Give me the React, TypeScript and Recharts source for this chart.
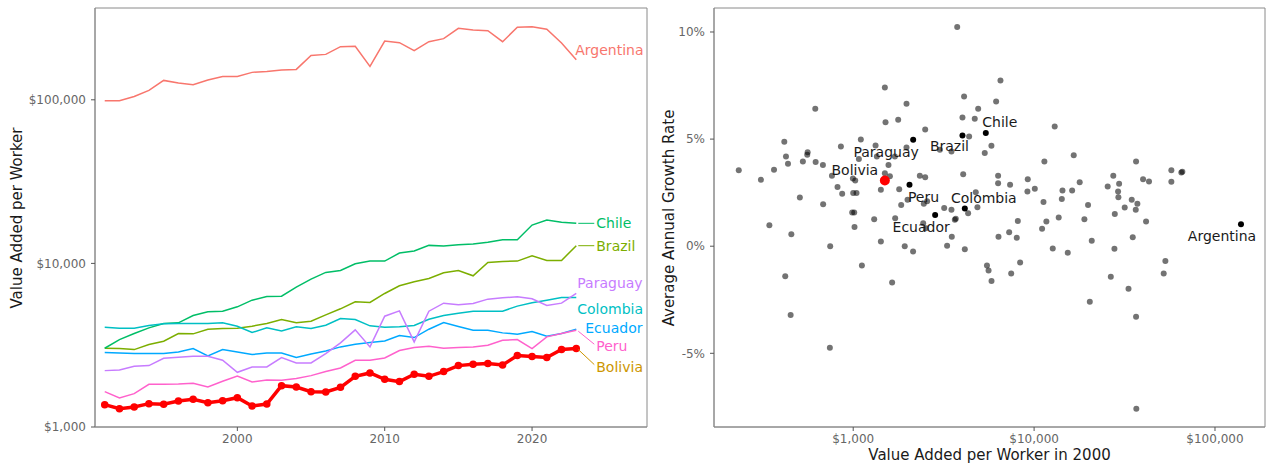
import React from 'react';
import { LineChart, Line, XAxis, YAxis, ScatterChart, Scatter, ReferenceArea } from 'recharts';

// ---------- Left panel data: value added per worker (USD), 1991-2023 ----------
const years = [1991, 1992, 1993, 1994, 1995, 1996, 1997, 1998, 1999, 2000, 2001, 2002, 2003, 2004, 2005, 2006, 2007, 2008, 2009, 2010, 2011, 2012, 2013, 2014, 2015, 2016, 2017, 2018, 2019, 2020, 2021, 2022, 2023];
const argentina = [98600, 98600, 104800, 114100, 131400, 126500, 123600, 132000, 139000, 139000, 147100, 149100, 152000, 153400, 186800, 189500, 211200, 212200, 160000, 228700, 223400, 199600, 226600, 236400, 273500, 267200, 264600, 226600, 277300, 280000, 269700, 222400, 175800];
const bolivia = [1369, 1294, 1325, 1389, 1376, 1442, 1476, 1408, 1449, 1511, 1344, 1382, 1789, 1756, 1644, 1637, 1748, 2041, 2140, 1957, 1894, 2100, 2041, 2181, 2373, 2418, 2441, 2395, 2733, 2695, 2657, 2973, 3016];
const brazil = [3029, 3016, 2973, 3191, 3345, 3727, 3709, 3960, 3999, 4018, 4132, 4291, 4539, 4331, 4433, 4847, 5277, 5822, 5768, 6550, 7297, 7720, 8091, 8761, 9058, 8400, 10139, 10282, 10330, 11140, 10426, 10426, 12830];
const chile = [3029, 3424, 3727, 4036, 4291, 4331, 4803, 5057, 5105, 5426, 5961, 6278, 6307, 7160, 8015, 8806, 9058, 9949, 10330, 10330, 11568, 11898, 12887, 12766, 13010, 13134, 13446, 13957, 13957, 17160, 18400, 17830, 17580];
const colombia = [4074, 4018, 4018, 4172, 4271, 4291, 4291, 4291, 4331, 4132, 3779, 4036, 3869, 4093, 3999, 4191, 4604, 4539, 4152, 4074, 4093, 4172, 4560, 4803, 4963, 5105, 5105, 5105, 5480, 5741, 5961, 6190, 6190];
const ecuador = [2850, 2837, 2810, 2810, 2810, 2877, 3016, 2720, 2973, 2877, 2771, 2837, 2837, 2657, 2797, 2918, 3088, 3206, 3282, 3360, 3622, 3522, 3960, 4352, 4113, 3905, 3905, 3761, 3691, 3832, 3588, 3727, 3960];
const paraguay = [2211, 2232, 2351, 2373, 2632, 2670, 2707, 2707, 2558, 2160, 2329, 2329, 2657, 2464, 2464, 2810, 3266, 3923, 3088, 4757, 5129, 3313, 5105, 5715, 5583, 5688, 6046, 6161, 6249, 6074, 5529, 5715, 6550];
const peru = [1644, 1504, 1599, 1824, 1824, 1832, 1850, 1756, 1902, 2051, 1885, 1939, 1930, 1976, 2061, 2181, 2296, 2558, 2558, 2644, 2932, 3058, 3117, 3029, 3058, 3088, 3161, 3392, 3424, 3016, 3555, 3727, 3905];

const lineCountries = ['Argentina', 'Brazil', 'Chile', 'Colombia', 'Ecuador', 'Paraguay', 'Peru', 'Bolivia'];
const lineTicksY = [1000, 10000, 100000];
const lineTicksX = [2000, 2010, 2020];

// ---------- Right panel data: value added per worker in 2000 vs average growth (%) ----------
const otherValueAdded2000 = [
  233, 309, 365, 344, 455, 416, 425, 436, 560, 557, 527, 620, 680, 617, 507, 682, 763, 855, 819, 869,
  996, 1026, 1000, 1043, 987, 1013, 1017, 1075, 1102, 1306, 1329, 1351, 1422, 1496, 1509, 1496, 1567, 1595, 1700, 1706,
  1773, 1796, 1842, 1971, 1971, 1997, 2335, 2500, 2500, 2456, 2563, 3184, 3493, 3645, 2437, 2520, 3013, 3493, 3758,
  6517, 4102, 6166, 4907, 4018, 4698, 4373, 5808, 5336, 13000, 16560, 11400, 4055, 6324, 6324, 7367, 9226, 9184, 10090, 11270,
  14350, 14230, 16230, 17870, 19870, 27400, 25520, 29510, 29130, 29240, 34650, 37240, 36470, 31690, 27930, 36620, 40040, 43180, 57380, 65160,
  66000, 57380, 41590, 18970, 13680, 11690, 11070, 8130, 7280, 4860, 4318, 4760, 3690,
  4140, 6356, 8020, 5488, 5600, 5816, 7470, 8370, 12680, 15350, 20830, 27800, 35100, 26550, 33260, 20320, 36620, 36740, 53180, 52060,
  746, 421, 451, 743, 1117, 1422, 1641, 1927, 2143, 3304, 3508,
];
const otherGrowth = [
  3.55, 3.10, 3.57, 0.98, 0.56, 4.88, 4.19, 3.85, 4.39, 4.27, 3.96, 3.93, 3.79, 6.42, 2.27, 1.96, 3.29, 4.66, 2.76, 2.45,
  3.16, 3.07, 2.48, 2.48, 1.57, 1.57, 0.90, 4.07, 4.98, 1.26, 4.70, 4.19, 2.63, 7.41, 5.79, 3.41, 3.79, 3.26, 4.19, 1.31,
  5.90, 2.66, 1.92, 6.65, 4.61, 2.17, 3.29, 3.22, 5.45, 1.98, 2.10, 1.78, 1.70, 1.23, 1.07, 0.84, 4.50, 4.42, 10.23,
  7.74, 6.99, 6.76, 6.42, 6.01, 5.95, 5.12, 4.69, 4.35, 5.59, 4.25, 3.96, 3.36, 3.29, 2.94, 2.87, 3.13, 2.55, 2.68, 2.06,
  2.60, 2.20, 2.60, 2.98, 1.92, 3.29, 2.79, 2.91, 2.55, 2.29, 2.17, 1.98, 1.70, 1.81, 1.50, 3.96, 3.13, 3.02, 3.54, 3.44,
  3.47, 3.01, 1.15, 1.26, 1.34, 1.15, 0.81, 1.18, 0.65, 1.82, 1.54, 2.52, 1.28,
  -0.14, 0.44, 0.40, -0.90, -1.14, -1.62, -1.28, -0.76, -0.11, -0.30, 0.25, -0.12, 0.42, -1.43, -1.99, -2.59, -3.29, -7.59, -0.69, -1.28,
  0.00, -1.40, -3.21, -4.74, -0.90, 0.22, -1.70, 0.00, -0.25, 0.02, 0.44,
];
const focusCountries = ['Paraguay', 'Peru', 'Ecuador', 'Brazil', 'Chile', 'Colombia', 'Argentina'];
const focusValueAdded2000 = [2145, 2047, 2838, 4018, 5408, 4140, 139200];
const focusGrowth = [4.97, 2.87, 1.46, 5.17, 5.28, 1.76, 1.03];
const boliviaValueAdded2000 = [1496];
const boliviaGrowth = [3.07];
const scatterTicksX = [1000, 10000, 100000];
const scatterTicksY = [-5, 0, 5, 10];

// ---------- styles ----------
const FONT = 'DejaVu Sans, Verdana, sans-serif';
const seriesColors: Record<string, string> = {
  Argentina: '#F8766D', Bolivia: '#CD9600', Brazil: '#7CAE00', Chile: '#00BE67',
  Colombia: '#00BFC4', Ecuador: '#00A9FF', Paraguay: '#C77CFF', Peru: '#FF61CC',
};
const endLabelPlacement: Record<string, { dx: number; dy: number; leader: boolean }> = {
  Argentina: { dx: -1, dy: -10, leader: false },
  Chile: { dx: 20, dy: 0, leader: true },
  Brazil: { dx: 20, dy: 0, leader: true },
  Paraguay: { dx: 1, dy: -10.5, leader: false },
  Colombia: { dx: 1, dy: 12, leader: false },
  Ecuador: { dx: 9, dy: -1, leader: false },
  Peru: { dx: 20, dy: 16, leader: true },
  Bolivia: { dx: 20, dy: 18, leader: true },
};
const pointLabelPlacement: Record<string, { dx: number; dy: number }> = {
  Paraguay: { dx: -27, dy: 12 },
  Bolivia: { dx: -30, dy: -10 },
  Brazil: { dx: -13, dy: 11 },
  Chile: { dx: 14, dy: -11 },
  Peru: { dx: 14, dy: 12 },
  Colombia: { dx: 19, dy: -11 },
  Ecuador: { dx: -14, dy: 12 },
  Argentina: { dx: -19, dy: 12 },
};
const BORDER = '#8a8a8a';
const TICK_TEXT = { fontSize: 12, fill: '#666666', fontFamily: FONT };

const seriesValues: Record<string, number[]> = {
  Argentina: argentina, Bolivia: bolivia, Brazil: brazil, Chile: chile,
  Colombia: colombia, Ecuador: ecuador, Paraguay: paraguay, Peru: peru,
};
const lineRows = years.map((year, i) => {
  const row: Record<string, number> = { year };
  lineCountries.forEach((c) => { row[c] = seriesValues[c][i]; });
  return row;
});
const otherPoints = otherValueAdded2000.map((x, i) => ({ x, y: otherGrowth[i] }));
const focusPoints = focusCountries.map((name, i) => ({ name, x: focusValueAdded2000[i], y: focusGrowth[i] }));
const boliviaPoints = boliviaValueAdded2000.map((x, i) => ({ name: 'Bolivia', x, y: boliviaGrowth[i] }));

const dollar = (v: number) => '$' + v.toLocaleString('en-US');
const pct = (v: number) => `${v}%`;

const makeEndLabel = (country: string) => (props: any) => {
  const { x, y, index } = props;
  if (index !== years.length - 1 || x == null || y == null) return <g />;
  const p = endLabelPlacement[country];
  const color = seriesColors[country];
  return (
    <g>
      {p.leader && (
        <line x1={x + 2} y1={y + (p.dy ? 1 : 0)} x2={x + p.dx - 2} y2={y + p.dy - (p.dy ? 2 : 0)} stroke={color} strokeWidth={1} />
      )}
      <text x={x + p.dx} y={y + p.dy} fill={color} fontSize={14} fontFamily={FONT} dominantBaseline="central">
        {country}
      </text>
    </g>
  );
};

const makePointShape = (r: number, color: string, labelled: boolean) => (props: any) => {
  const { cx, cy, payload } = props;
  if (cx == null || cy == null) return <g />;
  const p = labelled ? pointLabelPlacement[payload.name] : null;
  return (
    <g>
      <circle cx={cx} cy={cy} r={r} fill={color} />
      {p && (
        <text x={cx + p.dx} y={cy + p.dy} fontSize={14} fontFamily={FONT} fill="#1a1a1a" textAnchor="middle" dominantBaseline="central">
          {payload.name}
        </text>
      )}
    </g>
  );
};
const grayShape = (props: any) => {
  const { cx, cy } = props;
  if (cx == null || cy == null) return <g />;
  return <circle cx={cx} cy={cy} r={3} fill="#000" fillOpacity={0.55} />;
};

const titleStyle: React.CSSProperties = {
  position: 'absolute', whiteSpace: 'nowrap', fontFamily: FONT, fontSize: 15, color: '#1a1a1a',
  transform: 'translate(-50%, -50%)', lineHeight: 1,
};

export default function App() {
  const lineDomainX: [number, number] = [1990.34, 2027.8];
  const lineDomainY: [number, number] = [1000, 364000];
  const scDomainX: [number, number] = [170, 189000];
  const scDomainY: [number, number] = [-8.44, 11.12];
  return (
    <div style={{ position: 'absolute', left: 0, top: 0, width: 1266, height: 466, background: '#fff', fontFamily: FONT, overflow: 'hidden' }}>
      <div style={{ position: 'absolute', left: 0, top: 0 }}>
        <LineChart width={650} height={466} data={lineRows} margin={{ top: 8, right: 3, bottom: 0, left: 0 }}>
          <XAxis dataKey="year" type="number" domain={lineDomainX} allowDataOverflow ticks={lineTicksX} interval={0}
            height={39} tickSize={4} tickMargin={3} tick={TICK_TEXT} axisLine={{ stroke: BORDER }} tickLine={{ stroke: '#555' }} />
          <YAxis type="number" scale="log" domain={lineDomainY} allowDataOverflow ticks={lineTicksY} interval={0}
            width={95} tickSize={4} tickMargin={5} tick={TICK_TEXT} tickFormatter={dollar} axisLine={{ stroke: BORDER }} tickLine={{ stroke: '#555' }} />
          <ReferenceArea x1={lineDomainX[0]} x2={lineDomainX[1]} y1={lineDomainY[0]} y2={lineDomainY[1]} fill="none" fillOpacity={0} stroke={BORDER} strokeWidth={1} ifOverflow="visible" />
          {lineCountries.filter((c) => c !== 'Bolivia').map((c) => (
            <Line key={c} dataKey={c} stroke={seriesColors[c]} strokeWidth={1.5} dot={false} isAnimationActive={false} label={makeEndLabel(c)} />
          ))}
          <Line dataKey="Bolivia" stroke="#FF0000" strokeWidth={3.5} dot={{ r: 3, fill: '#FF0000', stroke: '#FF0000', strokeWidth: 1.5 }}
            isAnimationActive={false} label={makeEndLabel('Bolivia')} />
        </LineChart>
      </div>
      <div style={{ position: 'absolute', left: 650, top: 0 }}>
        <ScatterChart width={616} height={466} margin={{ top: 8, right: 1, bottom: 0, left: 0 }}>
          <XAxis dataKey="x" type="number" scale="log" domain={scDomainX} allowDataOverflow ticks={scatterTicksX} interval={0}
            height={39} tickSize={4} tickMargin={3} tick={TICK_TEXT} tickFormatter={dollar} axisLine={{ stroke: BORDER }} tickLine={{ stroke: '#555' }} />
          <YAxis dataKey="y" type="number" domain={scDomainY} allowDataOverflow ticks={scatterTicksY} interval={0}
            width={64} tickSize={4} tickMargin={5} tick={TICK_TEXT} tickFormatter={pct} axisLine={{ stroke: BORDER }} tickLine={{ stroke: '#555' }} />
          <ReferenceArea x1={scDomainX[0]} x2={scDomainX[1]} y1={scDomainY[0]} y2={scDomainY[1]} fill="none" fillOpacity={0} stroke={BORDER} strokeWidth={1} ifOverflow="visible" />
          <Scatter data={otherPoints} shape={grayShape} isAnimationActive={false} />
          <Scatter data={focusPoints} shape={makePointShape(3, '#000', true)} isAnimationActive={false} />
          <Scatter data={boliviaPoints} shape={makePointShape(5, '#FF0000', true)} isAnimationActive={false} />
        </ScatterChart>
      </div>
      <div style={{ ...titleStyle, left: 17, top: 217.5, transform: 'translate(-50%, -50%) rotate(-90deg)' }}>Value Added per Worker</div>
      <div style={{ ...titleStyle, left: 668.5, top: 217.5, transform: 'translate(-50%, -50%) rotate(-90deg)' }}>Average Annual Growth Rate</div>
      <div style={{ ...titleStyle, left: 989.5, top: 455 }}>Value Added per Worker in 2000</div>
    </div>
  );
}
